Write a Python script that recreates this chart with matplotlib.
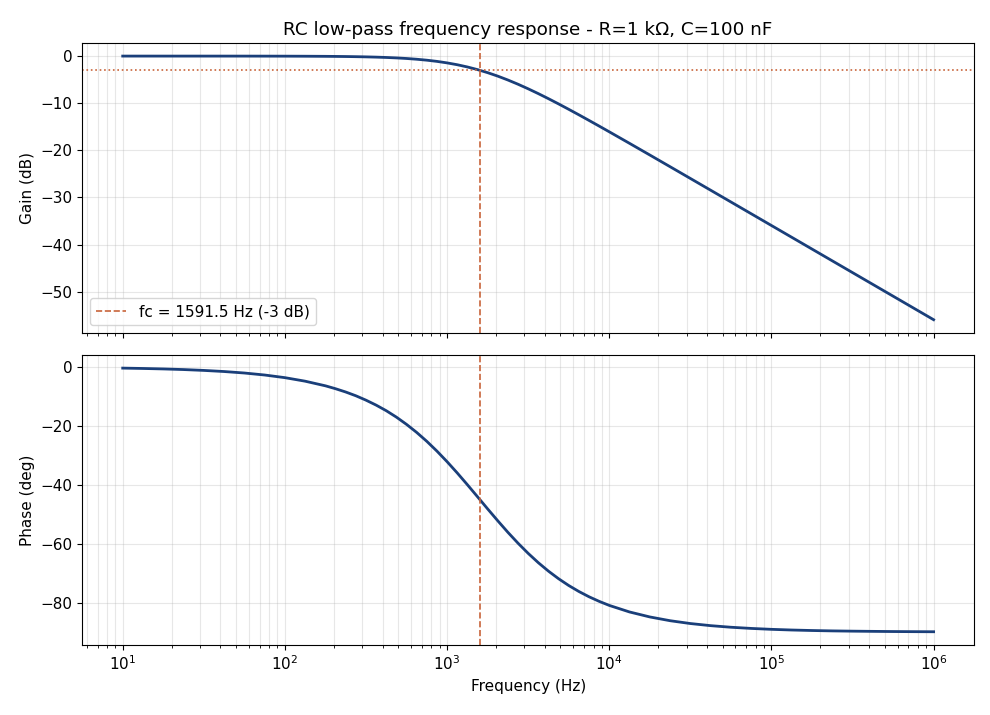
import numpy as np
import matplotlib
matplotlib.use('Agg')
import matplotlib.pyplot as plt

##########################################################################
# data
##########################################################################
fc = 1591.5

freq = [10, 13.3, 17.8, 23.7, 31.6, 42.2, 56.2, 75.0,
        100, 133, 178, 205, 237, 274, 316, 365, 422, 487, 562, 649, 750, 866,
        1000, 1155, 1334, 1540, 1778, 2054, 2371, 2738, 3162, 3652, 4217, 4870,
        5623, 6494, 7499, 8660,
        10000, 13335, 17783, 23714, 31623, 42170, 56234, 74989,
        100000, 133352, 177828, 237137, 316228, 421697, 562341, 749894,
        1000000]

gain_db = [0.0, 0.0, -0.001, -0.001, -0.002, -0.003, -0.005, -0.010,
           -0.017, -0.030, -0.054, -0.072, -0.095, -0.127, -0.168, -0.223, -0.295, -0.389,
           -0.511, -0.669, -0.871, -1.126,
           -1.445, -1.836, -2.309, -2.869, -3.518, -4.256, -5.078, -5.976, -6.944, -7.968,
           -9.041, -10.153, -11.298, -12.465, -13.655, -14.856,
           -16.072, -18.524, -20.997, -23.482, -25.974, -28.468, -30.966, -33.464,
           -35.963, -38.462, -40.962, -43.462, -45.962, -48.462, -50.962, -53.462,
           -55.962]

phase_deg = [-0.36, -0.48, -0.64, -0.85, -1.14, -1.52, -2.02, -2.70,
             -3.60, -4.79, -6.38, -7.35, -8.47, -9.76, -11.24, -12.92, -14.84, -17.01,
             -19.46, -22.19, -25.23, -28.55,
             -32.14, -35.96, -39.96, -44.05, -48.17, -52.22, -56.13, -59.83, -63.28, -66.45,
             -69.32, -71.90, -74.20, -76.23, -78.02, -79.58,
             -80.96, -83.19, -84.88, -86.16, -87.12, -87.84, -88.38, -88.78,
             -89.09, -89.32, -89.49, -89.62, -89.71, -89.78, -89.84, -89.88,
             -89.91]

blue = '#1a3f7a'
orange = '#c8643a'

plt.rcParams['font.size'] = 11

##########################################################################
# plot
##########################################################################
fig, (ax1, ax2) = plt.subplots(2, 1, figsize=(9.9, 7.15), dpi=100, sharex=True)
fig.subplots_adjust(left=0.083, right=0.984, top=0.94, bottom=0.098, hspace=0.076)

ax1.semilogx(freq, gain_db, color=blue, lw=2)
ax1.axvline(fc, color=orange, ls='--', lw=1.2, label='fc = %.1f Hz (-3 dB)' % fc)
ax1.axhline(-3, color=orange, ls=':', lw=1.2)
ax1.set_ylabel('Gain (dB)')
ax1.set_title('RC low-pass frequency response - R=1 k\u03a9, C=100 nF')
ax1.grid(True, which='both', alpha=0.3)
ax1.legend(loc='lower left')

ax2.semilogx(freq, phase_deg, color=blue, lw=2)
ax2.axvline(fc, color=orange, ls='--', lw=1.2)
ax2.set_ylabel('Phase (deg)')
ax2.set_xlabel('Frequency (Hz)')
ax2.grid(True, which='both', alpha=0.3)

fig.savefig('out.png')
